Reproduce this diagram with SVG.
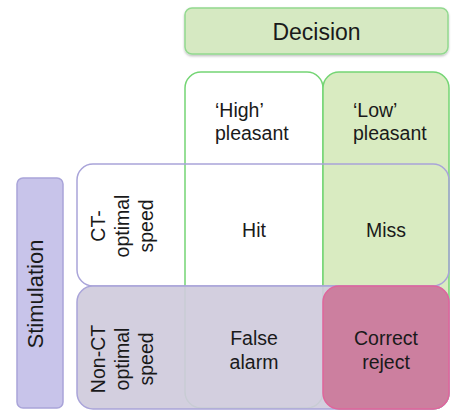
<svg xmlns="http://www.w3.org/2000/svg" width="453" height="412" viewBox="0 0 453 412">
<defs>
<filter id="sh" x="-10%" y="-20%" width="120%" height="150%">
<feDropShadow dx="0" dy="1.5" stdDeviation="1.2" flood-color="#000" flood-opacity="0.25"/>
</filter>
</defs>
<style>
text{font-family:"Liberation Sans",Arial,sans-serif;fill:#1a1a1a;font-size:19.5px}
.c{text-anchor:middle}
.g{stroke:#74d574;stroke-width:1.5}
.p{stroke:#a9a4d9;stroke-width:1.5}
</style>
<rect width="453" height="412" fill="#fff"/>
<g id="decision">
<rect x="185" y="8" width="263" height="46" rx="7" fill="#d6e9c2" stroke="#92d98f" stroke-width="1.5" filter="url(#sh)"/>
<text x="316.5" y="40" class="c" style="font-size:23px">Decision</text>
</g>
<g id="col-high">
<rect x="185" y="72" width="138" height="336" rx="16" fill="#fff" class="g"/>
<text x="215" y="117">‘High’</text>
<text x="215" y="140">pleasant</text>
</g>
<g id="col-low">
<rect x="323" y="72" width="126" height="337" rx="16" fill="#d9ebc1" class="g"/>
<text x="353" y="117">‘Low’</text>
<text x="353" y="140">pleasant</text>
</g>
<g id="stimulation">
<rect x="17" y="178" width="46" height="230" rx="6" fill="#c8c4ea" class="p"/>
<text transform="translate(43,294) rotate(-90)" class="c" style="font-size:22px">Stimulation</text>
</g>
<g id="row-ct">
<rect x="77" y="164" width="372" height="122" rx="16" fill="none" class="p"/>
<text transform="translate(105,226) rotate(-90)" class="c">CT-</text>
<text transform="translate(129,226) rotate(-90)" class="c">optimal</text>
<text transform="translate(153,226) rotate(-90)" class="c">speed</text>
</g>
<g id="row-nonct">
<rect x="77" y="286" width="372" height="123" rx="16" fill="#cfcbdc" fill-opacity="0.92" class="p"/>
<text transform="translate(105,359) rotate(-90)" class="c">Non-CT</text>
<text transform="translate(129,359) rotate(-90)" class="c">optimal</text>
<text transform="translate(153,359) rotate(-90)" class="c">speed</text>
</g>
<g id="connectors"></g>
<g id="hit"><text x="254" y="237" class="c">Hit</text></g>
<g id="miss"><text x="386" y="237" class="c">Miss</text></g>
<g id="false-alarm">
<text x="254" y="345" class="c">False</text>
<text x="254" y="369" class="c">alarm</text>
</g>
<g id="correct-reject">
<rect x="323" y="286" width="126" height="123" rx="16" fill="#cc7f9f" stroke="#e0659c" stroke-width="1.5"/>
<text x="386" y="345" class="c">Correct</text>
<text x="386" y="369" class="c">reject</text>
</g>
</svg>
